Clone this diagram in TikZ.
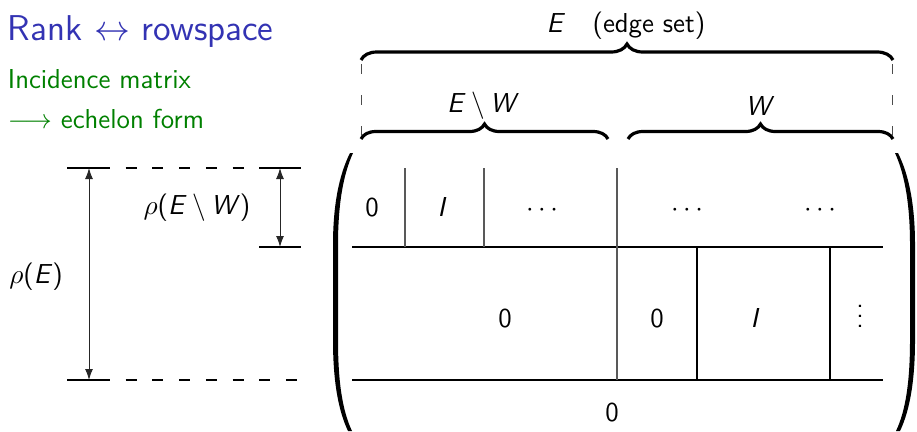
\documentclass[tikz,border=0pt]{standalone}
\usetikzlibrary{arrows.meta,decorations.pathreplacing}
\definecolor{titleblue}{RGB}{51,51,179}
\definecolor{textgreen}{RGB}{0,128,0}
\begin{document}
\begin{tikzpicture}[x=1pt,y=-1pt,
  every node/.style={scale=2.49,inner sep=0pt,outer sep=0pt,font=\fontsize{11}{13.5}\selectfont\sffamily},
  titletxt/.style={font=\fontsize{14.4}{18}\selectfont\sffamily,text=titleblue,anchor=base west},
  greentxt/.style={text=textgreen,anchor=base west},
  lbl/.style={anchor=base},
  brc/.style={decorate,decoration={brace,amplitude=#1},line width=3.2pt},
  brc/.default=16pt,
  vdashline/.style={draw=black!70,line width=1pt,dash pattern=on 10pt off 21pt},
  hdashline/.style={line width=1.1pt,dash pattern=on 11pt off 15.7pt,dash phase=11pt},
  tick/.style={line width=1.1pt},
  dimarrow/.style={draw=black!85,line width=1pt,{Latex[length=11pt,width=8pt]}-{Latex[length=11pt,width=8pt]}},
  grayline/.style={draw=black!65,line width=1.3pt},
  blackline/.style={draw=black,line width=1.3pt}
]
\useasboundingbox (0,0) rectangle (917,431);

% texts on the left
\node[titletxt] (title) at (8,40) {Rank $\leftrightarrow$ rowspace};
\node[greentxt] (g1) at (8,88) {Incidence matrix};
\node[greentxt] (g2) at (8,128) {$\longrightarrow$ echelon form};

% brace labels
\node[lbl] (Etop) at (626,32) {\textit{E}\quad(edge set)};
\node[lbl] (EWl) at (483,112) {\textit{E}\hspace{.2em}$\setminus$\hspace{.2em}\textit{W}};
\node[lbl] (Wl) at (760,115) {\textit{W}};

% braces
\coordinate (b1a) at (361,60); \coordinate (b1b) at (893,60);
\coordinate (b2a) at (361,139); \coordinate (b2b) at (608,139);
\coordinate (b3a) at (628,139); \coordinate (b3b) at (893,139);
\draw[brc] (b1a) -- (b1b);
\draw[brc=15pt] (b2a) -- (b2b);
\draw[brc=15pt] (b3a) -- (b3b);
\coordinate (d1a) at (361,64); \coordinate (d1b) at (361,138);
\coordinate (d2a) at (892,64); \coordinate (d2b) at (892,138);
\draw[vdashline] (d1a) -- (d1b);
\draw[vdashline] (d2a) -- (d2b);

% dimension lines
\coordinate (tA) at (67,168); \coordinate (tB) at (110,168);
\coordinate (tC) at (259,168); \coordinate (tD) at (301,168);
\coordinate (bA) at (67,380); \coordinate (bB) at (110,380); \coordinate (bC) at (297,380);
\coordinate (mA) at (259,247); \coordinate (mB) at (301,247);
\draw[tick] (tA) -- (tB);
\draw[hdashline] (tB) -- (tC);
\draw[tick] (tC) -- (tD);
\draw[tick] (bA) -- (bB);
\draw[hdashline] (bB) -- (bC);
\draw[tick] (mA) -- (mB);
\coordinate (arT) at (89,168); \coordinate (arB) at (89,380);
\coordinate (asT) at (280,168); \coordinate (asB) at (280,247);
\draw[dimarrow] (arT) -- (arB);
\draw[dimarrow] (asT) -- (asB);
\node[lbl] (rEW) at (197,214) {$\rho$(\textit{E}\hspace{.2em}$\setminus$\hspace{.2em}\textit{W})};
\node[lbl] (rE) at (36,283) {$\rho$(\textit{E})};

% matrix parentheses
\fill (350,153) .. controls (339,175) and (333,205) .. (333,245) -- (333,340)
  .. controls (333,380) and (338,410) .. (348,431) -- (352,431)
  .. controls (342,410) and (338,380) .. (338,340) -- (338,245)
  .. controls (338,205) and (343,175) .. (353,153) -- cycle;
\fill (898,153) .. controls (909,175) and (915,205) .. (915,245) -- (915,340)
  .. controls (915,380) and (910,410) .. (900,431) -- (896,431)
  .. controls (906,410) and (910,380) .. (910,340) -- (910,245)
  .. controls (910,205) and (905,175) .. (895,153) -- cycle;

% matrix grid
\coordinate (h1a) at (352,247); \coordinate (h1b) at (883,247);
\coordinate (h2a) at (352,380); \coordinate (h2b) at (883,380);
\draw[blackline] (h1a) -- (h1b);
\draw[blackline] (h2a) -- (h2b);
\coordinate (v1a) at (405,168); \coordinate (v1b) at (405,247);
\coordinate (v2a) at (484,168); \coordinate (v2b) at (484,247);
\coordinate (v3a) at (617,168); \coordinate (v3b) at (617,380);
\coordinate (v4a) at (697,247); \coordinate (v4b) at (697,380);
\coordinate (v5a) at (830,247); \coordinate (v5b) at (830,380);
\draw[grayline] (v1a) -- (v1b);
\draw[grayline] (v2a) -- (v2b);
\draw[grayline] (v3a) -- (v3b);
\draw[blackline] (v4a) -- (v4b);
\draw[blackline] (v5a) -- (v5b);

% matrix entries
\node[lbl] (m11) at (372,216.5) {0};
\node[lbl] (m12) at (442,216.5) {\textit{I}};
\node[lbl] (m13) at (542,216.5) {$\cdots$};
\node[lbl] (m14) at (687,216.5) {$\cdots$};
\node[lbl] (m15) at (820,216.5) {$\cdots$};
\node[lbl] (m21) at (505,327.5) {0};
\node[lbl] (m22) at (657,327.5) {0};
\node[lbl] (m23) at (755,327.5) {\textit{I}};
\node[lbl] (m24) at (860,327.5) {$\vdots$};
\node[lbl] (m31) at (612,421.5) {0};
\end{tikzpicture}
\end{document}
